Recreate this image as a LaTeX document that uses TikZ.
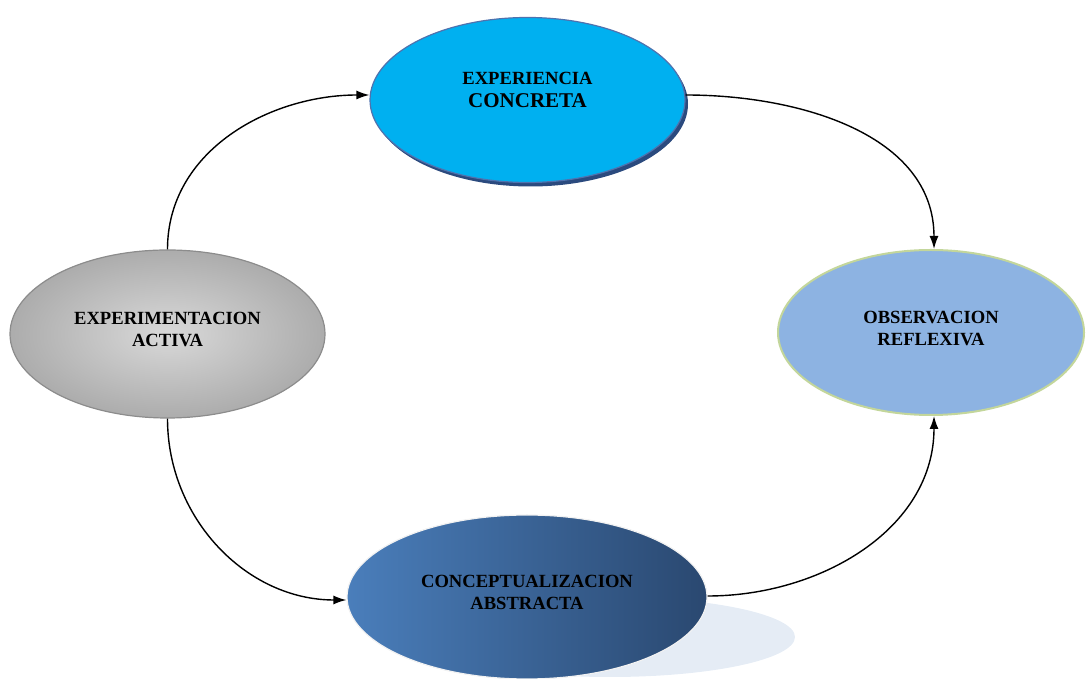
\documentclass[tikz,border=0pt]{standalone}
\usepackage{fontspec}
\setmainfont{Liberation Serif}
\usepackage{tikz}
\usetikzlibrary{arrows,arrows.meta,backgrounds,fit,calc,positioning,shapes.geometric,shadows}

\definecolor{cielo}{HTML}{00B0F0}
\definecolor{cielodark}{HTML}{2B4A7E}
\definecolor{cieloborde}{HTML}{4F72AE}
\definecolor{azulclaro}{HTML}{8DB3E2}
\definecolor{verdeborde}{HTML}{C3D69B}
\definecolor{azulmedio}{HTML}{4A7EBB}
\definecolor{azuloscuro}{HTML}{2A4870}
\definecolor{sombra}{HTML}{DCE6F2}

\begin{document}
\begin{tikzpicture}[align=center,x=1pt,y=1pt]
\tikzstyle{phase}=[ellipse,minimum width=315pt,minimum height=165pt,inner sep=0pt,
  text depth=9pt,font=\bfseries\fontsize{18.6}{22}\selectfont]
\tikzstyle{followed}=[-{Latex[length=13pt,width=9pt]},line width=1.4pt,black]

\useasboundingbox (0,0) rectangle (1086,679);

% sombra de la conceptualizacion
\fill[sombra,opacity=0.75] (610,42) ellipse (185 and 40);

\node[phase, fill=cielo, draw=cieloborde, line width=1.2pt, text depth=20pt,
  drop shadow={shadow xshift=3pt,shadow yshift=-4pt,fill=cielodark,opacity=1}]
  (ec) at (527.5,579) {EXPERIENCIA\\[1pt]{\fontsize{21}{24}\selectfont CONCRETA}};
\node[phase, minimum width=306pt, fill=azulclaro, draw=verdeborde, line width=2pt]
  (or) at (931,346.5) {OBSERVACION\\REFLEXIVA};
\node[phase, minimum height=168pt, inner color=gray!30, outer color=gray!65,
  draw=gray!90, line width=1.2pt]
  (ea) at (167.5,345) {EXPERIMENTACION\\ACTIVA};
\node[phase, minimum width=360pt, minimum height=164pt, left color=azulmedio,
  right color=azuloscuro, draw=white!90!gray, line width=1.2pt]
  (ca) at (527,82) {CONCEPTUALIZACION\\ABSTRACTA};

\path
  	(ea.north) edge [followed, out=90, in=180] ([yshift=5pt]ec.west)
  	([yshift=5pt]ec.east) edge [followed, out=0, in=90] ([xshift=3pt]or.north)
  	([yshift=1pt]ca.east) edge [followed, out=0, in=-90] ([xshift=3pt]or.south)
  	(ea.south) edge [followed, out=-90, in=180] ([yshift=-3pt]ca.west);
\end{tikzpicture}
\end{document}
